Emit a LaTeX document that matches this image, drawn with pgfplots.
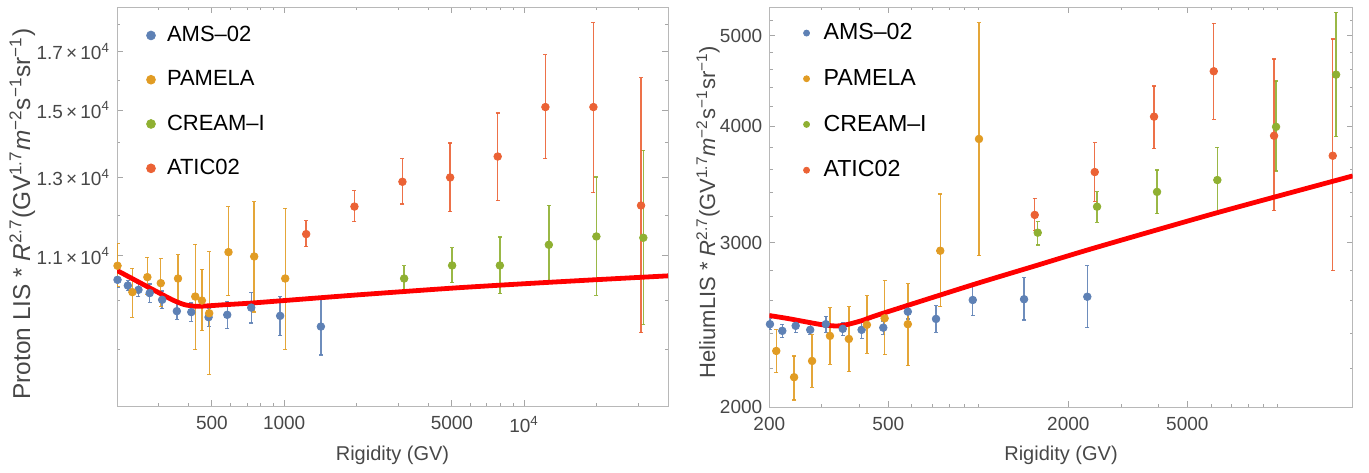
\documentclass[border=0pt]{standalone}
\usepackage{fontspec}
\setmainfont{Liberation Sans}
\usepackage{pgfplots}
\pgfplotsset{compat=1.18}
\usepackage{pgfplotstable}

\definecolor{mblue}{HTML}{5E81B5}
\definecolor{morange}{HTML}{E19C24}
\definecolor{mgreen}{HTML}{8FB032}
\definecolor{mred}{HTML}{EB6235}

% ---------- left panel (proton) ----------
\pgfplotstableread{
x y ep em
202 10452 170 170
223 10325 110 110
247 10231 150 150
275 10160 200 200
310 10016 190 190
357 9777 170 170
410 9757 190 190
484 9652 185 185
579 9701 280 280
729 9851 320 320
962 9679 400 400
1422 9461 600 555
}\pAMS
\pgfplotstableread{
x y ep em
202 10770 515 466
233 10181 534 529
269 10512 450 390
306 10378 554 504
361 10481 542 536
426 10086 1184 1083
454 10000 693 620
487 9734 1361 1186
586 11088 1130 987
750 10985 1365 1228
1010 10481 1697 1465
}\pPAM
\pgfplotstableread{
x y ep em
3162 10481 289 250
5012 10777 413 385
7925 10777 671 633
12680 11262 993 848
20010 11464 1548 1348
31400 11432 2338 1936
}\pCRE
\pgfplotstableread{
x y ep em
1235 11522 331 309
1963 12218 419 383
3111 12881 647 598
4917 13000 990 910
7762 13594 1319 1217
12270 15106 1781 1578
19450 15106 2982 2516
30720 12246 3831 2906
}\pATI
\pgfplotstableread{
x y
201 10663
250 10390
300 10169
340 10021
380 9920
420 9881
470 9885
550 9908
722 9945
1000 10000
2000 10120
5000 10268
10000 10365
20000 10455
39810 10541
}\pFIT

% ---------- right panel (helium) ----------
\pgfplotstableread{
x y ep em
201 2455 33 33
221 2415 40 40
245 2445 42 42
274 2421 30 30
309 2455 48 48
352 2427 40 40
407 2421 50 50
481 2434 40 40
581 2532 50 45
722 2487 83 80
958 2606 100 100
1422 2611 143 130
2314 2627 210 193
}\hAMS
\pgfplotstableread{
x y ep em
211 2298 127 120
242 2154 116 118
278 2242 149 141
319 2385 173 161
369 2367 197 184
424 2451 183 166
486 2491 241 215
581 2455 257 239
746 2943 442 379
1005 3878 1288 971
}\hPAM
\pgfplotstableread{
x y ep em
1580 3077 84 92
2495 3281 124 124
3960 3403 189 178
6300 3504 295 263
9900 3996 478 412
15720 4545 757 646
}\hCRE
\pgfplotstableread{
x y ep em
1544 3215 135 122
2451 3574 268 252
3870 4097 323 311
6128 4583 576 512
9750 3909 815 660
15320 3721 1241 919
}\hATI
\pgfplotstableread{
x y
200 2508
230 2490
260 2472
300 2452
335 2444
365 2453
410 2478
469 2516
958 2706
1544 2834
2451 2964
6300 3233
17870 3540
}\hFIT

\pgfplotsset{
  mstyle/.style={
    axis line style={draw=black!28},
    tick style={draw=black!35, line width=0.5pt},
    major tick length=3pt, minor tick length=1.6pt,
    tick align=inside,
    ticklabel style={font=\fontsize{9.5}{11}\selectfont, text=black!72},
    xticklabel style={yshift=-1.5pt},
    label style={font=\fontsize{10}{12}\selectfont, text=black!72},
    scale only axis,
    clip=true,
    legend cell align=left,
    legend image code/.code={\draw[##1] plot coordinates {(0.1cm,0cm)};},
    legend style={draw=none, fill=none, inner sep=0pt, nodes={inner sep=1.5pt}},
  },
  dots/.style={only marks, mark=*, mark size=1.9pt, color=#1,
    mark options={draw=#1, fill=#1},
    error bars/y dir=both, error bars/y explicit,
    error bars/error bar style={line width=0.7pt, color=#1, opacity=0.9},
    error bars/error mark options={rotate=90, mark size=1.0pt, line width=0.6pt, color=#1}},
}

\begin{document}
\begin{tikzpicture}
\path[use as bounding box] (0,0) rectangle (684.5pt,236pt);

\begin{loglogaxis}[mstyle,
  at={(58.5pt,33pt)}, anchor=south west,
  width=275.5pt, height=199.5pt,
  xmin=201, xmax=39800, ymin=7990, ymax=18700,
  xtick={500,1000,5000,10000},
  xticklabels={500,1000,5000,10\textsuperscript{4}},
  minor xtick={300,400,600,700,800,900,2000,3000,4000,6000,7000,8000,9000,20000,30000},
  ytick={11000,13000,15000,17000},
  yticklabels={1.1\,×\,10\textsuperscript{4},1.3\,×\,10\textsuperscript{4},1.5\,×\,10\textsuperscript{4},1.7\,×\,10\textsuperscript{4}},
  minor ytick={9000,10000,12000,14000,16000,18000},
  xlabel={Rigidity (GV)},
  ylabel={Proton LIS * \textit{R}\textsuperscript{2.7}(GV\textsuperscript{1.7}\textit{m}\textsuperscript{−2}s\textsuperscript{−1}sr\textsuperscript{−1})},
  xlabel style={at={(axis description cs:0.5,-0.1228)}, anchor=center},
  ylabel style={at={(axis description cs:-0.172,0.481)}, anchor=center, font=\fontsize{12.2}{14}\selectfont},
  legend style={at={(axis description cs:0.053,0.96)}, anchor=north west,
    font=\fontsize{11}{13}\selectfont, row sep=10pt, column sep=4.3pt},
  legend image post style={mark size=2.2pt},
]
\addplot[dots=mblue] table[x=x,y=y,y error plus=ep,y error minus=em]{\pAMS};
\addlegendentry{AMS–02}
\addplot[dots=morange] table[x=x,y=y,y error plus=ep,y error minus=em]{\pPAM};
\addlegendentry{PAMELA}
\addplot[dots=mgreen] table[x=x,y=y,y error plus=ep,y error minus=em]{\pCRE};
\addlegendentry{CREAM–I}
\addplot[dots=mred] table[x=x,y=y,y error plus=ep,y error minus=em]{\pATI};
\addlegendentry{ATIC02}
\addplot[forget plot, red, line width=2.4pt, smooth, tension=0.4] table[x=x,y=y]{\pFIT};
\end{loglogaxis}

\begin{loglogaxis}[mstyle,
  at={(384.65pt,32.35pt)}, anchor=south west,
  width=291.7pt, height=200pt,
  xmin=200, xmax=17870, ymin=2000, ymax=5367,
  xtick={200,500,2000,5000},
  xticklabels={200,500,2000,5000},
  minor xtick={300,400,600,700,800,900,1000,3000,4000,6000,7000,8000,9000,10000},
  ytick={2000,3000,4000,5000},
  yticklabels={2000,3000,4000,5000},
  minor ytick={2200,2400,2600,2800,3200,3400,3600,3800,4200,4400,4600,4800,5200},
  xlabel={Rigidity (GV)},
  ylabel={HeliumLIS * \textit{R}\textsuperscript{2.7}(GV\textsuperscript{1.7}\textit{m}\textsuperscript{−2}s\textsuperscript{−1}sr\textsuperscript{−1})},
  xlabel style={at={(axis description cs:0.5,-0.119)}, anchor=center},
  ylabel style={at={(axis description cs:-0.105,0.488)}, anchor=center, font=\fontsize{11}{13}\selectfont},
  legend style={at={(axis description cs:0.058,0.968)}, anchor=north west,
    font=\fontsize{11.6}{13.5}\selectfont, row sep=10.3pt, column sep=5.5pt},
  legend image post style={mark size=1.5pt},
]
\addplot[dots=mblue] table[x=x,y=y,y error plus=ep,y error minus=em]{\hAMS};
\addlegendentry{AMS–02}
\addplot[dots=morange] table[x=x,y=y,y error plus=ep,y error minus=em]{\hPAM};
\addlegendentry{PAMELA}
\addplot[dots=mgreen] table[x=x,y=y,y error plus=ep,y error minus=em]{\hCRE};
\addlegendentry{CREAM–I}
\addplot[dots=mred] table[x=x,y=y,y error plus=ep,y error minus=em]{\hATI};
\addlegendentry{ATIC02}
\addplot[forget plot, red, line width=2.4pt, smooth, tension=0.4] table[x=x,y=y]{\hFIT};
\end{loglogaxis}
\end{tikzpicture}
\end{document}
